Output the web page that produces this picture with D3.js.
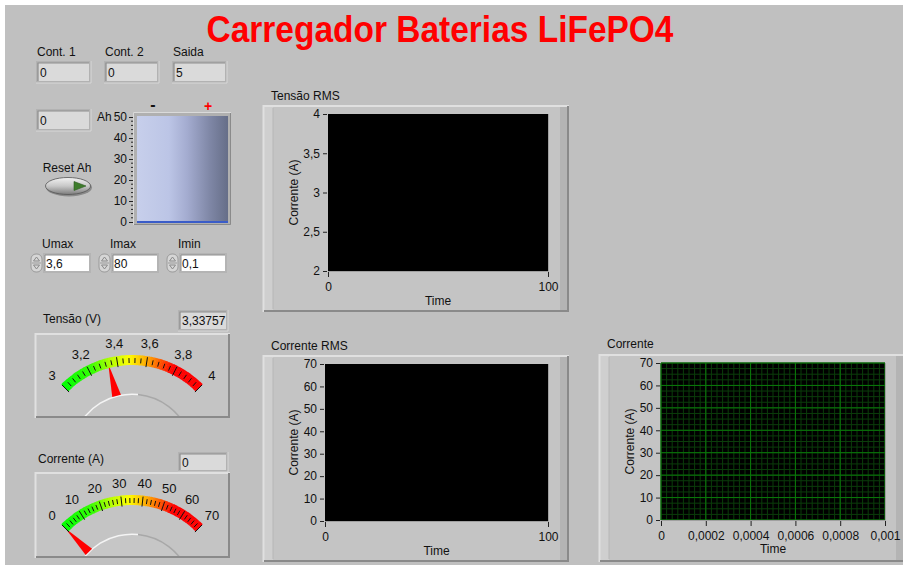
<!DOCTYPE html>
<html><head><meta charset="utf-8">
<script src="https://cdn.jsdelivr.net/npm/d3@7"></script>
<style>
body{margin:0;background:#fff}
svg{display:block}
text{font-family:"Liberation Sans",Arial,sans-serif;fill:#111}
</style></head>
<body><svg id="c" width="903" height="565"></svg>
<script>
// ---------- DATA ----------
const title = "Carregador Baterias LiFePO4";
const indicatorLabels = ["Cont. 1", "Cont. 2", "Saida"];
const indicatorValues = ["0", "0", "5"];
const ahValue = "0";
const tankLevel = 0;
const tankTicks = [0, 10, 20, 30, 40, 50];
const controlLabels = ["Umax", "Imax", "Imin"];
const controlValues = ["3,6", "80", "0,1"];
const voltageValue = 3.33757;
const voltageDisplay = "3,33757";
const voltageTicks = [3, 3.2, 3.4, 3.6, 3.8, 4];
const currentValue = 0;
const currentDisplay = "0";
const currentTicks = [0, 10, 20, 30, 40, 50, 60, 70];
const tensaoRmsYTicks = [2, 2.5, 3, 3.5, 4];
const tensaoRmsXTicks = [0, 100];
const correnteRmsYTicks = [0, 10, 20, 30, 40, 50, 60, 70];
const correnteRmsXTicks = [0, 100];
const correnteYTicks = [0, 10, 20, 30, 40, 50, 60, 70];
const correnteXTicks = [0, 0.0002, 0.0004, 0.0006, 0.0008, 0.001];
const tensaoRmsData = [];
const correnteRmsData = [];
const correnteData = [];

// ---------- SETUP ----------
const svg = d3.select("#c");
const loc = d3.formatLocale({decimal: ",", thousands: ".", grouping: [3], currency: ["", ""]});
const fmt = loc.format("~g");
const defs = svg.append("defs");

svg.append("rect").attr("x", 5).attr("y", 5).attr("width", 898).attr("height", 560).attr("fill", "#c0c0c0");

// title
svg.append("text").attr("x", 440).attr("y", 42).attr("text-anchor", "middle")
  .attr("font-size", 36).attr("font-weight", "bold").style("fill", "#ff0000")
  .attr("textLength", 467).attr("lengthAdjust", "spacingAndGlyphs").text(title);

function label(x, y, t, opts = {}) {
  const el = svg.append("text").attr("x", x).attr("y", y).attr("font-size", opts.size || 12).text(t);
  if (opts.anchor) el.attr("text-anchor", opts.anchor);
  return el;
}
function indicator(x, y, w, h, val) {
  svg.append("rect").attr("x", x).attr("y", y).attr("width", w).attr("height", h).attr("fill", "#b2b2b2");
  svg.append("rect").attr("x", x + 2).attr("y", y + 2).attr("width", w - 4).attr("height", h - 4).attr("fill", "#dadada");
  svg.append("path").attr("d", `M${x + 2},${y + h - 2}V${y + 2}H${x + w - 2}`).attr("fill", "none").attr("stroke", "#8e8e8e").attr("stroke-width", 1.2);
  svg.append("path").attr("d", `M${x},${y + h}H${x + w}V${y}`).attr("fill", "none").attr("stroke", "#d8d8d8").attr("stroke-width", 1);
  label(x + 4, y + h / 2 + 4.5, val);
}
function control(x, y, w, h, val) {
  svg.append("rect").attr("x", x).attr("y", y).attr("width", w).attr("height", h).attr("fill", "#b4b4b4");
  svg.append("rect").attr("x", x + 2).attr("y", y + 2).attr("width", w - 4).attr("height", h - 4).attr("fill", "#ffffff");
  svg.append("path").attr("d", `M${x + 2},${y + h - 2}V${y + 2}H${x + w - 2}`).attr("fill", "none").attr("stroke", "#8e8e8e").attr("stroke-width", 1);
  label(x + 3, y + h / 2 + 4.5, val);
  // spinner
  const sx = x - 12, sy = y + 1;
  svg.append("rect").attr("x", sx).attr("y", sy).attr("width", 11).attr("height", h - 2).attr("rx", 5).attr("fill", "#d6d6d6").attr("stroke", "#9a9a9a");
  svg.append("line").attr("x1", sx + 1).attr("x2", sx + 10).attr("y1", sy + (h - 2) / 2).attr("y2", sy + (h - 2) / 2).attr("stroke", "#9a9a9a");
  svg.append("path").attr("d", `M${sx + 5.5},${sy + 3}l3,4h-6z`).attr("fill", "none").attr("stroke", "#8a8a8a");
  svg.append("path").attr("d", `M${sx + 5.5},${sy + h - 5}l3,-4h-6z`).attr("fill", "none").attr("stroke", "#8a8a8a");
}
function raisedFrame(x, y, w, h, strip) {
  svg.append("rect").attr("x", x).attr("y", y).attr("width", w).attr("height", h).attr("fill", "#c4c4c4");
  if (strip) {
    svg.append("rect").attr("x", x + 1).attr("y", y + 2).attr("width", 9).attr("height", h - 4).attr("fill", "#cfcfcf");
    svg.append("line").attr("x1", x + 10).attr("x2", x + 10).attr("y1", y + 3).attr("y2", y + h - 3).attr("stroke", "#b6b6b6");
    svg.append("rect").attr("x", x + w - 9).attr("y", y + 2).attr("width", 8).attr("height", h - 4).attr("fill", "#b4b4b4");
  }
  svg.append("path").attr("d", `M${x + 0.5},${y + h}V${y + 1}H${x + w}`).attr("fill", "none").attr("stroke", "#e0e0e0").attr("stroke-width", 2);
  svg.append("path").attr("d", `M${x + 1},${y + h - 1}H${x + w - 1}V${y + 1}`).attr("fill", "none").attr("stroke", "#8a8a8a").attr("stroke-width", 2);
}

// ---------- TOP INDICATORS ----------
const indX = [36, 104, 172];
indicatorLabels.forEach((l, i) => {
  label(indX[i] + 1, 56, l);
  indicator(indX[i], 61, 55, 22, indicatorValues[i]);
});
indicator(36, 109, 55, 22, ahValue);

// ---------- TANK ----------
const tank = {x: 137, y: 116, w: 91, h: 106};
const tankY = d3.scaleLinear().domain([0, 50]).range([222, 117]);
const tg = defs.append("linearGradient").attr("id", "tankG");
[[0, "#c7cfeb"], [0.35, "#bcc5e6"], [0.55, "#a4acd0"], [0.8, "#7f87a6"], [1, "#666e88"]].forEach(s =>
  tg.append("stop").attr("offset", s[0]).attr("stop-color", s[1]));
svg.append("rect").attr("x", 133).attr("y", 112).attr("width", 98).attr("height", 113).attr("fill", "#b0b0b0");
svg.append("path").attr("d", "M133.5,225V112.5H231").attr("fill", "none").attr("stroke", "#dadada");
svg.append("path").attr("d", "M134,224.5H230.5V113").attr("fill", "none").attr("stroke", "#8a8a8a");
svg.append("rect").attr("x", tank.x).attr("y", tank.y).attr("width", tank.w).attr("height", tank.h).attr("fill", "url(#tankG)");
svg.append("rect").attr("x", tank.x).attr("y", tankY(tankLevel) - 1).attr("width", tank.w)
  .attr("height", Math.max(2, tankY(0) - tankY(tankLevel) + 1)).attr("fill", "#3a5cc8");
const tankAxis = svg.append("g").attr("transform", "translate(133,0)");
tankAxis.call(d3.axisLeft(tankY).tickValues(tankTicks).tickSize(4).tickPadding(2).tickFormat(fmt));
tankAxis.select(".domain").remove();
tankAxis.selectAll("text").attr("font-size", 12).style("font-family", '"Liberation Sans",Arial,sans-serif').style("fill", "#111");
tankAxis.selectAll(".tick line").attr("stroke", "#222");
d3.range(0, 51, 2).filter(v => v % 10 !== 0).forEach(v => {
  tankAxis.append("line").attr("x1", -2).attr("x2", 0).attr("y1", tankY(v)).attr("y2", tankY(v)).attr("stroke", "#222");
});
label(97, 121, "Ah");
svg.append("text").attr("x", 153).attr("y", 110).attr("text-anchor", "middle").attr("font-size", 16).attr("font-weight", "bold").text("-");
svg.append("text").attr("x", 208).attr("y", 111).attr("text-anchor", "middle").attr("font-size", 14).attr("font-weight", "bold").style("fill", "#ff0000").text("+");

// ---------- RESET BUTTON ----------
label(67, 172, "Reset Ah", {anchor: "middle"});
const bg = defs.append("linearGradient").attr("id", "btnG").attr("x1", 0).attr("x2", 0).attr("y1", 0).attr("y2", 1);
[[0, "#f2f2f2"], [0.5, "#c8c8c8"], [1, "#7c7c7c"]].forEach(s => bg.append("stop").attr("offset", s[0]).attr("stop-color", s[1]));
svg.append("ellipse").attr("cx", 69).attr("cy", 187.5).attr("rx", 23).attr("ry", 9).attr("fill", "#8a8a8a");
svg.append("ellipse").attr("cx", 68).attr("cy", 186).attr("rx", 22.5).attr("ry", 8.5).attr("fill", "url(#btnG)").attr("stroke", "#555").attr("stroke-width", 0.8);
svg.append("path").attr("d", "M74,181.5 L86,186 L74,190.5 Z").attr("fill", "#3e7c2c").attr("stroke", "#2c5a20").attr("stroke-width", 0.6);

// ---------- CONTROLS ----------
const ctrlX = [43, 111, 179];
controlLabels.forEach((l, i) => {
  label(ctrlX[i] - 1, 248, l);
  control(ctrlX[i], 253, 48, 20, controlValues[i]);
});

// ---------- GAUGES ----------
const bandColor = d3.scaleLinear()
  .domain([0, 0.22, 0.36, 0.48, 0.62, 0.78, 1])
  .range(["#00ff00", "#33ff00", "#b8ff00", "#ffff00", "#ff9900", "#ff0000", "#ff0000"]);
function gauge(fx, fy, fw, fh, cx, cy, domain, ticks, minorStep, value, id) {
  raisedFrame(fx, fy, fw, fh, false);
  const ang = d3.scaleLinear().domain(domain).range([-Math.PI / 4, Math.PI / 4]);
  const g = svg.append("g");
  const cp = defs.append("clipPath").attr("id", id);
  cp.append("rect").attr("x", fx + 2).attr("y", fy + 2).attr("width", fw - 4).attr("height", fh - 4);
  const gc = g.append("g").attr("clip-path", `url(#${id})`);
  // hub
  gc.append("circle").attr("cx", cx).attr("cy", cy).attr("r", 61).attr("fill", "#c6c6c6");
  const hubArc = d3.arc().innerRadius(61).outerRadius(61);
  gc.append("path").attr("transform", `translate(${cx},${cy})`)
    .attr("d", d3.arc()({innerRadius: 60, outerRadius: 61.5, startAngle: -1.2, endAngle: 0.1})).attr("fill", "#f4f4f4");
  gc.append("path").attr("transform", `translate(${cx},${cy})`)
    .attr("d", d3.arc()({innerRadius: 60, outerRadius: 61.5, startAngle: 0.1, endAngle: 1.2})).attr("fill", "#a8a8a8");
  // band
  const N = 90, arc = d3.arc().innerRadius(90).outerRadius(100);
  const bg2 = g.append("g").attr("transform", `translate(${cx},${cy})`);
  for (let i = 0; i < N; i++) {
    const a0 = -Math.PI / 4 + (Math.PI / 2) * i / N, a1 = -Math.PI / 4 + (Math.PI / 2) * (i + 1) / N + (i < N - 1 ? 0.004 : 0);
    bg2.append("path").attr("d", arc({startAngle: a0, endAngle: a1})).attr("fill", bandColor((i + 0.5) / N));
  }
  // ticks
  const pt = (v, r) => [cx + r * Math.sin(ang(v)), cy - r * Math.cos(ang(v))];
  const minors = d3.range(domain[0], domain[1] + minorStep / 2, minorStep);
  minors.forEach(v => {
    const major = ticks.some(t => Math.abs(t - v) < minorStep / 10);
    const a = pt(v, major ? 89 : 92), b = pt(v, major ? 99 : 97);
    g.append("line").attr("x1", a[0]).attr("y1", a[1]).attr("x2", b[0]).attr("y2", b[1]).attr("stroke", "#111").attr("stroke-width", 1);
  });
  ticks.forEach(v => {
    const p = pt(v, 113);
    g.append("text").attr("x", p[0]).attr("y", p[1] + 5).attr("text-anchor", "middle").attr("font-size", 13).text(fmt(v));
  });
  // needle
  const a = ang(Math.max(domain[0], Math.min(domain[1], value)));
  const tip = [cx + 94 * Math.sin(a), cy - 94 * Math.cos(a)];
  const bc = [cx + 61 * Math.sin(a), cy - 61 * Math.cos(a)];
  const px = Math.cos(a) * 4.5, py = Math.sin(a) * 4.5;
  gc.append("path").attr("d", `M${tip[0]},${tip[1]}L${bc[0] + px},${bc[1] + py}L${bc[0] - px},${bc[1] - py}Z`).attr("fill", "#ff0000");
}
label(43, 323, "Tensão (V)");
indicator(178, 310, 50, 21, voltageDisplay);
gauge(35, 333, 195, 85, 132, 455, [3, 4], voltageTicks, 0.04, voltageValue, "g1");

label(38, 463, "Corrente (A)");
indicator(178, 452, 50, 20, currentDisplay);
gauge(35, 472, 195, 86, 132, 595, [0, 70], currentTicks, 2, currentValue, "g2");

// ---------- CHARTS ----------
function chart(cfg) {
  raisedFrame(cfg.fx, cfg.fy, cfg.fw, cfg.fh, true);
  label(cfg.fx + 8, cfg.ly, cfg.title);
  const x = d3.scaleLinear().domain(cfg.xd).range([cfg.px, cfg.px + cfg.pw]);
  const y = d3.scaleLinear().domain(cfg.yd).range([cfg.py + cfg.ph, cfg.py]);
  svg.append("rect").attr("x", cfg.px).attr("y", cfg.py).attr("width", cfg.pw).attr("height", cfg.ph).attr("fill", "#000");
  if (cfg.grid) {
    const gg = svg.append("g");
    cfg.xMinor.forEach(v => gg.append("line").attr("x1", x(v)).attr("x2", x(v)).attr("y1", cfg.py).attr("y2", cfg.py + cfg.ph).attr("stroke", "#0b3d0b").attr("stroke-width", 1));
    cfg.yMinor.forEach(v => gg.append("line").attr("y1", y(v)).attr("y2", y(v)).attr("x1", cfg.px).attr("x2", cfg.px + cfg.pw).attr("stroke", "#0b3d0b").attr("stroke-width", 1));
    cfg.xt.forEach(v => gg.append("line").attr("x1", x(v)).attr("x2", x(v)).attr("y1", cfg.py).attr("y2", cfg.py + cfg.ph).attr("stroke", "#0a7a0a").attr("stroke-width", 1));
    cfg.yt.forEach(v => gg.append("line").attr("y1", y(v)).attr("y2", y(v)).attr("x1", cfg.px).attr("x2", cfg.px + cfg.pw).attr("stroke", "#0a7a0a").attr("stroke-width", 1));
  }
  svg.append("path").attr("d", `M${cfg.px},${cfg.py + cfg.ph + 0.5}H${cfg.px + cfg.pw + 0.5}V${cfg.py}`).attr("fill", "none").attr("stroke", "#a0a0a0");
  // data line (empty)
  svg.append("path").datum(cfg.data).attr("fill", "none").attr("stroke", "#fff")
    .attr("d", d3.line().x(d => x(d[0])).y(d => y(d[1])));
  const ya = svg.append("g").attr("transform", `translate(${cfg.px - 1},0)`)
    .call(d3.axisLeft(y).tickValues(cfg.yt).tickSize(4).tickPadding(3).tickFormat(fmt));
  const xa = svg.append("g").attr("transform", `translate(0,${cfg.py + cfg.ph + 1})`)
    .call(d3.axisBottom(x).tickValues(cfg.xt).tickSize(5).tickPadding(5).tickFormat(fmt));
  [ya, xa].forEach(a => {
    a.select(".domain").remove();
    a.selectAll("text").attr("font-size", 12).style("font-family", '"Liberation Sans",Arial,sans-serif').style("fill", "#111");
    a.selectAll(".tick line").attr("stroke", "#222");
  });
  svg.append("text").attr("transform", `translate(${cfg.ytx},${cfg.py + cfg.ph / 2}) rotate(-90)`)
    .attr("text-anchor", "middle").attr("font-size", 12).text("Corrente (A)");
  label(cfg.px + cfg.pw / 2, cfg.tty, "Time", {anchor: "middle"});
}
chart({title: "Tensão RMS", fx: 263, fy: 105, fw: 306, fh: 207, ly: 100, px: 328, py: 114, pw: 220, ph: 157,
  xd: [0, 100], yd: [2, 4], xt: tensaoRmsXTicks, yt: tensaoRmsYTicks, ytx: 298, tty: 305, data: tensaoRmsData});
chart({title: "Corrente RMS", fx: 263, fy: 355, fw: 306, fh: 207, ly: 350, px: 325, py: 364, pw: 223, ph: 157,
  xd: [0, 100], yd: [0, 70], xt: correnteRmsXTicks, yt: correnteRmsYTicks, ytx: 298, tty: 555, data: correnteRmsData});
chart({title: "Corrente", fx: 599, fy: 354, fw: 306, fh: 208, ly: 348, px: 661, py: 363, pw: 224, ph: 157,
  xd: [0, 0.001], yd: [0, 70], xt: correnteXTicks, yt: correnteYTicks, ytx: 634, tty: 553, data: correnteData, grid: true,
  xMinor: d3.range(0, 0.001 + 1e-9, 0.000025), yMinor: d3.range(0, 70.01, 2.5)});
</script></body></html>
